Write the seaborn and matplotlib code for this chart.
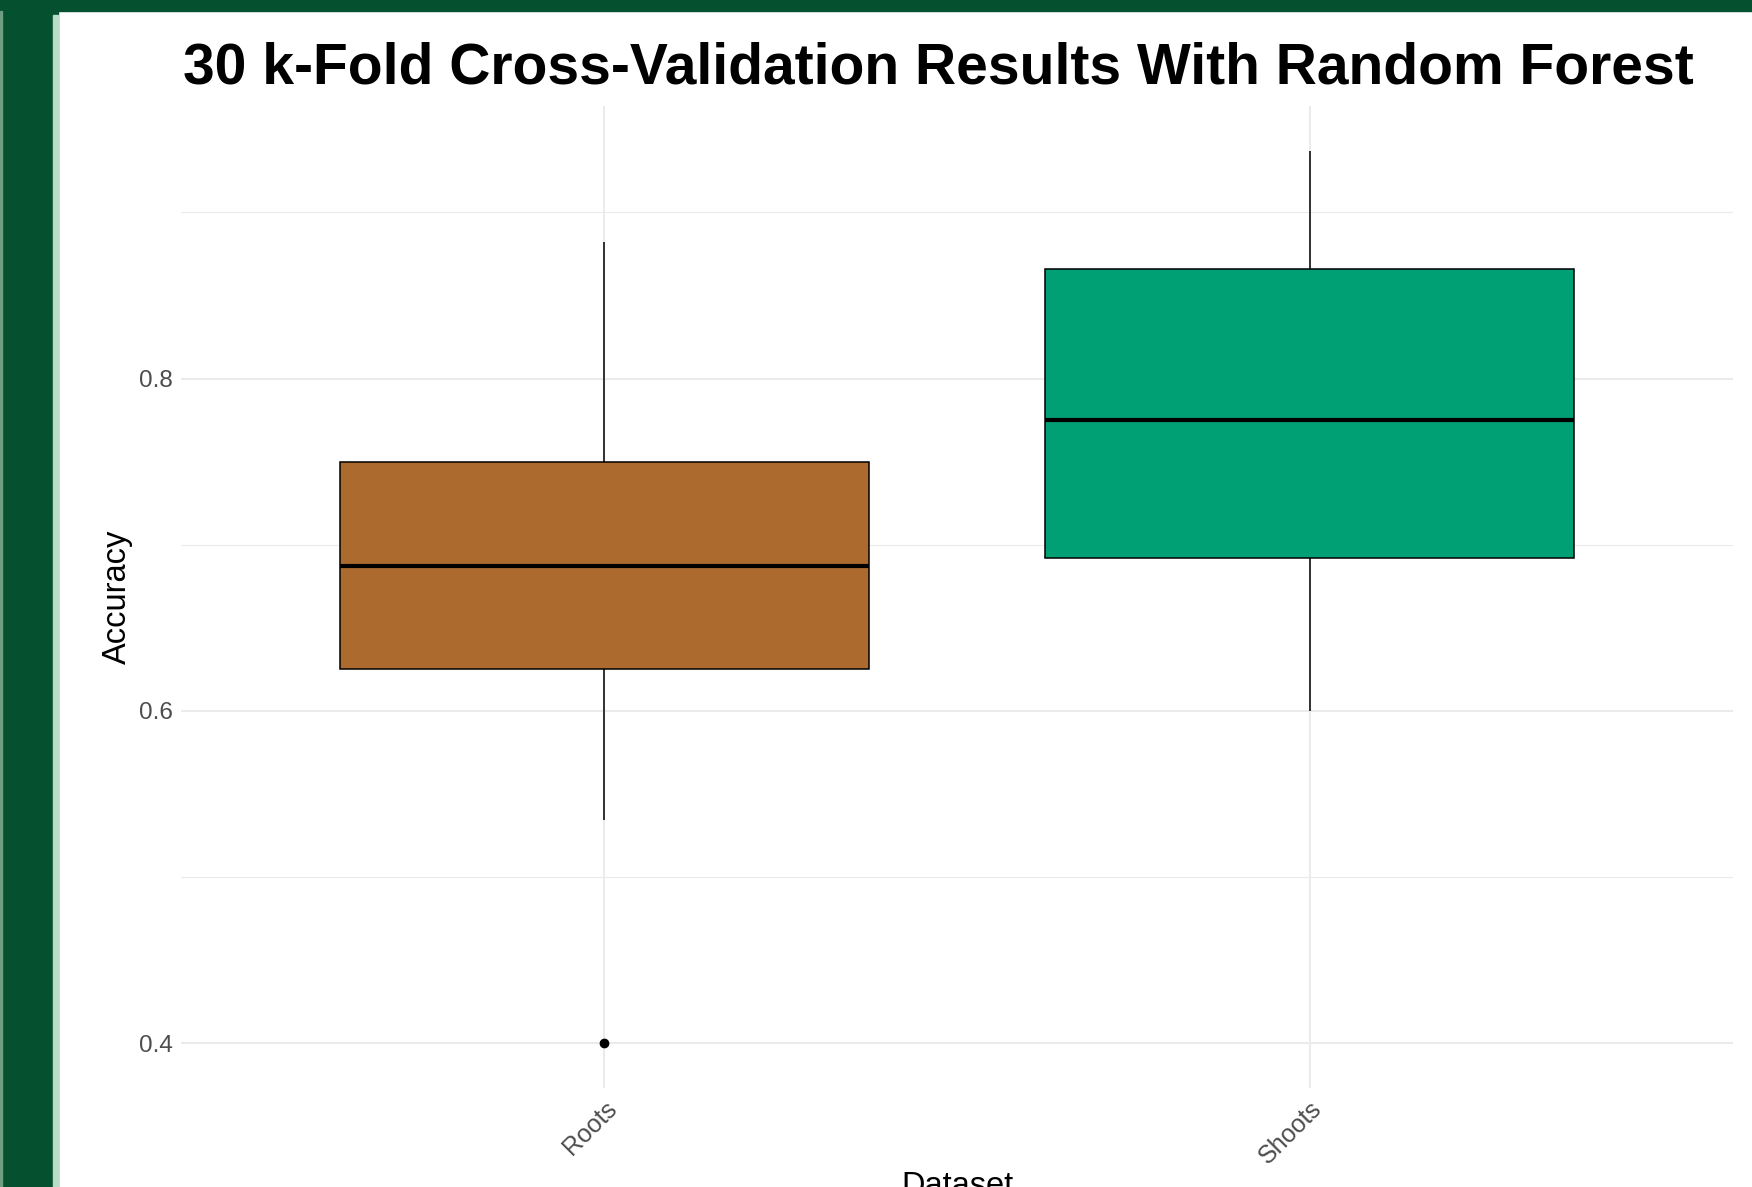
import pandas as pd
import seaborn as sns
import matplotlib.pyplot as plt
from matplotlib.patches import Rectangle
from matplotlib.ticker import MultipleLocator

# accuracy values per dataset
datasets = ["Roots", "Shoots"]
roots_acc = [0.400, 0.534, 0.625, 0.660, 0.687, 0.720, 0.750, 0.820, 0.882]
shoots_acc = [0.600, 0.650, 0.692, 0.730, 0.775, 0.820, 0.866, 0.900, 0.937]
box_colors = ["#AC6A2F", "#009F74"]

df = pd.DataFrame({
    "Dataset": [datasets[0]] * len(roots_acc) + [datasets[1]] * len(shoots_acc),
    "Accuracy": roots_acc + shoots_acc,
})

sns.set_style("white")
plt.rcParams["font.family"] = ["Liberation Sans", "DejaVu Sans"]

W, H = 1752, 1187
fig = plt.figure(figsize=(W / 100, H / 100), dpi=100)
fig.patch.set_facecolor("white")

# green page frame on the left and top
dark = "#04502F"
light = "#B9DCC6"
fig.patches.append(Rectangle((0, 0), 58 / W, 1, transform=fig.transFigure, color=dark, zorder=0))
fig.patches.append(Rectangle((0, 1 - 11 / H), 1, 11 / H, transform=fig.transFigure, color=dark, zorder=0))
fig.patches.append(Rectangle((53 / W, 0), 5 / W, 1 - 15 / H, transform=fig.transFigure, color=light, zorder=1))
fig.patches.append(Rectangle((0, 0), 1.5 / W, 1 - 11 / H, transform=fig.transFigure, color="#6E9E82", zorder=1))

ax = fig.add_axes([181 / W, 1 - 1088 / H, (1733 - 181) / W, (1088 - 106) / H])
ax.set_facecolor("white")

sns.boxplot(
    data=df, x="Dataset", y="Accuracy", hue="Dataset", palette=box_colors,
    saturation=1, legend=False, width=0.75, linecolor="black", linewidth=1.1,
    showcaps=False, fliersize=6,
    flierprops=dict(marker="o", markerfacecolor="black", markeredgecolor="black"),
    medianprops=dict(linewidth=3, color="black"),
    ax=ax,
)

ax.set_xlim(-0.6, 1.6)
ax.set_ylim(0.373, 0.964)
ax.yaxis.set_major_locator(MultipleLocator(0.2))
ax.yaxis.set_minor_locator(MultipleLocator(0.1))
ax.set_axisbelow(True)
ax.grid(which="major", axis="both", color="#EBEBEB", linewidth=1.5)
ax.grid(which="minor", axis="y", color="#EBEBEB", linewidth=0.8)
for s in ax.spines.values():
    s.set_visible(False)

ax.tick_params(axis="y", which="both", length=0, pad=6, labelsize=17.5, labelcolor="#4D4D4D")
ax.tick_params(axis="x", length=0, pad=6, labelsize=18, labelcolor="#4D4D4D")
for lbl in ax.get_xticklabels():
    lbl.set_rotation(45)
    lbl.set_ha("right")
    lbl.set_va("top")
    lbl.set_rotation_mode("anchor")

ax.set_ylabel("Accuracy", fontsize=23.5, color="black")
ax.yaxis.set_label_coords(-0.0412, 0.5)
ax.yaxis.label.set_va("center")
ax.set_xlabel("Dataset", fontsize=23.5, color="black")
ax.xaxis.set_label_coords(0.5, -(1195 - 1088) / (1088 - 106))
ax.xaxis.label.set_va("baseline")

fig.text(938 / W, 1 - 83 / H, "30 k-Fold Cross-Validation Results With Random Forest",
         ha="center", va="baseline", fontsize=41, fontweight="bold", color="black")

fig.savefig("out.png", dpi=100)
